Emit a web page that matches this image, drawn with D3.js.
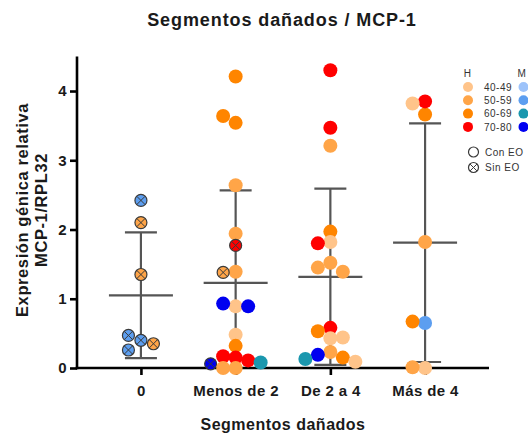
<!DOCTYPE html>
<html>
<head>
<meta charset="utf-8">
<script src="https://cdn.jsdelivr.net/npm/d3@7"></script>
<style>
  body { margin: 0; background: #fff; }
  svg { display: block; font-family: "Liberation Sans", Arial, sans-serif; }
</style>
</head>
<body>
<svg id="chart" width="528" height="435"></svg>
<script>
// ---- data ----
const categories = ["0", "Menos de 2", "De 2 a 4", "Más de 4"];
const yTicks = [0, 1, 2, 3, 4];
const ageBands = ["40-49", "50-59", "60-69", "70-80"];
const colorsH = ["#FFC48A", "#FFA548", "#FF8500", "#FF0000"];
const colorsM = ["#9DC3FA", "#5C9EF0", "#1A97AE", "#0000F0"];

// per category: value, sex + age band, EO flag (1 = Con EO, 0 = Sin EO)
const values0 = [2.42, 2.10, 1.35, 0.40, 0.47, 0.26, 0.35];
const keys0   = ["M50", "H50", "H50", "M50", "M50", "M50", "H50"];
const eo0     = [0, 0, 0, 0, 0, 0, 0];

const values1 = [4.21, 3.54, 3.64, 2.64, 1.94, 1.77, 1.39, 1.38, 0.89, 0.93, 0.89,
                 0.48, 0.32, 0.15, 0.17, 0.11, 0.06, 0.00, 0.08, 0.00];
const keys1   = ["H60", "H60", "H60", "H50", "H50", "H70", "H50", "H50", "H40", "M70", "M70",
                 "H40", "H60", "H70", "H70", "H70", "M70", "H50", "M60", "H50"];
const eo1     = [1, 1, 1, 1, 1, 0, 1, 0, 1, 1, 1,
                 1, 1, 1, 1, 1, 0, 1, 1, 1];

const values2 = [4.30, 3.47, 3.21, 1.97, 1.82, 1.80, 1.52, 1.45, 1.39,
                 0.58, 0.53, 0.44, 0.43, 0.23, 0.19, 0.15, 0.13, 0.09];
const keys2   = ["H70", "H70", "H50", "H60", "H40", "H70", "H50", "H50", "H50",
                 "H70", "H60", "H40", "H40", "H50", "M70", "H60", "M60", "H40"];
const eo2     = [1, 1, 1, 1, 1, 1, 1, 1, 1, 1, 1, 1, 1, 1, 1, 1, 1, 1];

const values3 = [3.66, 3.85, 3.82, 1.82, 0.65, 0.67, 0.00, 0.01];
const keys3   = ["H60", "H70", "H40", "H50", "M50", "H60", "H40", "H50"];
const eo3     = [1, 1, 1, 1, 1, 1, 1, 1];

const groupValues = [values0, values1, values2, values3];
const groupKeys = [keys0, keys1, keys2, keys3];
const groupEo = [eo0, eo1, eo2, eo3];

// ---- layout ----
const svg = d3.select("#chart");
const axisX0 = 77, axisY0 = 368;
const x = d3.scalePoint().domain(categories).range([axisX0, 489]).padding(0.675);
const y = d3.scaleLinear().domain([0, 4.5]).range([axisY0, 56.4]);

const colorFor = key => {
  const band = ["40", "50", "60", "70"].indexOf(key.slice(1));
  return key[0] === "H" ? colorsH[band] : colorsM[band];
};

const R_CON = 7, R_SIN = 6;
const LANE = 12.5, MIN_GAP = 10;

// lane-based swarm: each point takes the nearest free lane around the category centre
function swarm(vals) {
  const placed = [];
  return vals.map(v => {
    const py = y(v);
    for (let k = 0; ; k++) {
      const lane = k === 0 ? 0 : (k % 2 ? -(k + 1) / 2 : k / 2);
      const px = lane * LANE;
      if (placed.every(p => Math.hypot(p.x - px, p.y - py) >= MIN_GAP)) {
        placed.push({ x: px, y: py });
        return px;
      }
    }
  });
}

// ---- titles ----
svg.append("text")
  .attr("x", 282).attr("y", 26)
  .attr("text-anchor", "middle")
  .attr("font-size", 18).attr("font-weight", "bold")
  .attr("letter-spacing", 0.9)
  .attr("fill", "#1a1a1a")
  .text("Segmentos dañados / MCP-1");

svg.append("text")
  .attr("x", 283).attr("y", 430)
  .attr("text-anchor", "middle")
  .attr("font-size", 16).attr("font-weight", "bold")
  .attr("letter-spacing", 0.5)
  .attr("fill", "#1a1a1a")
  .text("Segmentos dañados");

const yTitle = svg.append("text")
  .attr("transform", "translate(28,210) rotate(-90)")
  .attr("text-anchor", "middle")
  .attr("font-size", 16.5).attr("font-weight", "bold")
  .attr("letter-spacing", 0.6)
  .attr("fill", "#1a1a1a");
yTitle.append("tspan").attr("x", 0).attr("y", 0).text("Expresión génica relativa");
yTitle.append("tspan").attr("x", 0).attr("y", 19).text("MCP-1/RPL32");

// ---- axes ----
const yAxis = svg.append("g")
  .attr("transform", `translate(${axisX0},0)`)
  .call(d3.axisLeft(y).tickValues(yTicks).tickFormat(d3.format("d")).tickSize(7).tickSizeOuter(0).tickPadding(3));
const xAxis = svg.append("g")
  .attr("transform", `translate(0,${axisY0})`)
  .call(d3.axisBottom(x).tickSize(7).tickSizeOuter(0).tickPadding(10));

[yAxis, xAxis].forEach(g => {
  g.select(".domain").attr("stroke", "#000").attr("stroke-width", 2.6);
  g.selectAll(".tick line").attr("stroke", "#000").attr("stroke-width", 2.6);
  g.selectAll(".tick text")
    .attr("fill", "#1a1a1a")
    .attr("font-family", "'Liberation Sans', Arial, sans-serif")
    .attr("font-size", 15).attr("font-weight", "bold")
    .attr("letter-spacing", 0.4);
});
xAxis.select(".domain").attr("d", `M${axisX0 - 1.3},0H489`);
yAxis.select(".domain").attr("d", `M0,${axisY0 + 1.3}V${y(4.5)}`);

// ---- mean ± SD bars (clipped to the plot area) ----
svg.append("clipPath").attr("id", "plotClip")
  .append("rect").attr("x", axisX0).attr("y", 0).attr("width", 528 - axisX0).attr("height", axisY0);

const bars = svg.append("g").attr("clip-path", "url(#plotClip)")
  .attr("stroke", "#555").attr("stroke-width", 2.2).attr("fill", "none");

categories.forEach((cat, i) => {
  const vals = groupValues[i];
  const m = d3.mean(vals), sd = d3.deviation(vals);
  const cx = x(cat);
  bars.append("line").attr("x1", cx).attr("x2", cx).attr("y1", y(m + sd)).attr("y2", y(m - sd));
  bars.append("line").attr("x1", cx - 16).attr("x2", cx + 16).attr("y1", y(m + sd)).attr("y2", y(m + sd));
  bars.append("line").attr("x1", cx - 16).attr("x2", cx + 16).attr("y1", y(m - sd)).attr("y2", y(m - sd));
  bars.append("line").attr("x1", cx - 32).attr("x2", cx + 32).attr("y1", y(m)).attr("y2", y(m));
});

// ---- markers ----
function drawMarker(g, cx, cy, fill, withEo, r, crossed) {
  const c = g.append("circle").attr("cx", cx).attr("cy", cy).attr("r", r).attr("fill", fill);
  if (!withEo || crossed === false) {
    c.attr("stroke", "#3a3a3a").attr("stroke-width", 1.2);
  }
  if (!withEo) {
    const d = r * 0.68;
    g.append("path")
      .attr("d", `M${cx - d},${cy - d}L${cx + d},${cy + d}M${cx - d},${cy + d}L${cx + d},${cy - d}`)
      .attr("stroke", "#3a3a3a").attr("stroke-width", 1);
  }
}

const pts = svg.append("g");
categories.forEach((cat, i) => {
  const vals = groupValues[i];
  const offs = swarm(vals);
  vals.forEach((v, j) => {
    const con = groupEo[i][j] === 1;
    drawMarker(pts, x(cat) + offs[j], y(v), colorFor(groupKeys[i][j]), con, con ? R_CON : R_SIN);
  });
});

// ---- legend ----
const lg = svg.append("g").attr("font-size", 10).attr("fill", "#333").attr("letter-spacing", 0.5);
lg.append("text").attr("x", 467.5).attr("y", 77).attr("text-anchor", "middle").text("H");
lg.append("text").attr("x", 522).attr("y", 77).attr("text-anchor", "middle").text("M");
ageBands.forEach((band, i) => {
  const ry = 87 + i * 13.3;
  lg.append("circle").attr("cx", 468).attr("cy", ry).attr("r", 5).attr("fill", colorsH[i]);
  lg.append("circle").attr("cx", 523.5).attr("cy", ry).attr("r", 5).attr("fill", colorsM[i]);
  lg.append("text").attr("x", 484).attr("y", ry + 3.6).text(band);
});
drawMarker(lg, 473.5, 152, "none", true, 5, false);
lg.append("text").attr("x", 485).attr("y", 155.5).text("Con EO");
drawMarker(lg, 473.5, 167.5, "none", false, 5);
lg.append("text").attr("x", 485).attr("y", 171).text("Sin EO");
</script>
</body>
</html>
